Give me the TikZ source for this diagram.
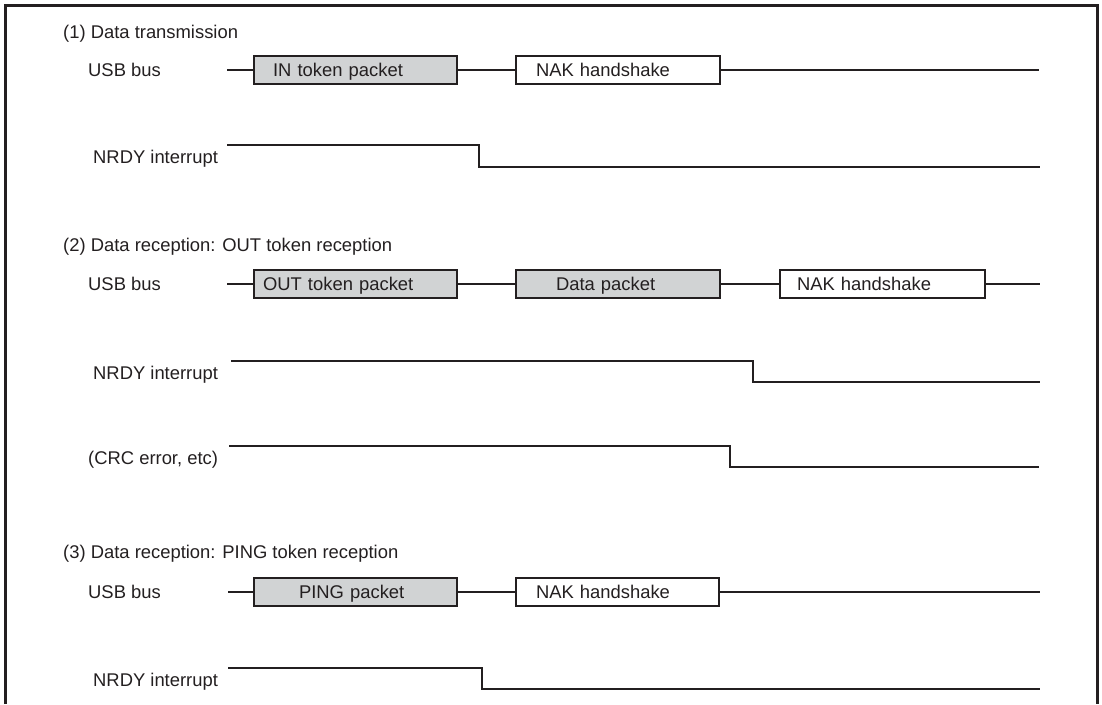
\documentclass[tikz,border=0pt]{standalone}
\usepackage{fontspec}
\setmainfont{Liberation Sans}
\definecolor{ink}{RGB}{35,31,32}
\definecolor{pktgray}{RGB}{209,211,212}
\tikzset{
  lbl/.style={anchor=base west, inner sep=0pt, text=ink, font=\fontsize{18.4pt}{22pt}\selectfont},
  sig/.style={draw=ink, line width=2pt},
  frm/.style={draw=ink, line width=3pt},
  pkt/.style={draw=ink, line width=2.4pt, minimum height=28pt, text height=13.2pt, text depth=0pt,
    inner ysep=0pt, align=left, text=ink, font=\fontsize{18.4pt}{22pt}\selectfont},
  pktfill/.style={pkt, fill=pktgray},
  pktwhite/.style={pkt, fill=white},
}
\begin{document}
\begin{tikzpicture}[x=1pt,y=-1pt]
\useasboundingbox (0,0) rectangle (1102,704);
% frame
\draw[frm] (5,704) -- (5,5) -- (1097,5) -- (1097,704);

% ---------- (1) ----------
\node[lbl] (t1) at (63,38) {(1) Data transmission};
\node[lbl] (u1) at (88,76.5) {USB bus};
\node[lbl] (n1) at (93,163) {NRDY interrupt};
\coordinate (u1s) at (227,70);
\coordinate (u1e) at (1039,70);
\node[pktfill, inner xsep=19pt, text width=165pt] (in1) at (355.5,70) {IN token packet};
\node[pktwhite, inner xsep=20pt, text width=164pt] (nak1) at (618,70) {NAK handshake};
\draw[sig] (u1s) -- (in1.west);
\draw[sig] (in1.east) -- (nak1.west);
\draw[sig] (nak1.east) -- (u1e);
\coordinate (r1s) at (227,145);
\coordinate (r1f) at (479,145);
\coordinate (r1e) at (1040,167);
\draw[sig] (r1s) -- (r1f) |- (r1e);

% ---------- (2) ----------
\node[lbl] (t2) at (63,251) {(2) Data reception: OUT token reception};
\node[lbl] (u2) at (88,290.5) {USB bus};
\node[lbl] (n2) at (93,379) {NRDY interrupt};
\node[lbl] (c2) at (88,464) {(CRC error, etc)};
\coordinate (u2s) at (227,284);
\coordinate (u2e) at (1040,284);
\node[pktfill, inner xsep=9pt, text width=185pt] (out2) at (355.5,284) {OUT token packet};
\node[pktfill, inner xsep=40pt, text width=124pt] (dat2) at (618,284) {Data packet};
\node[pktwhite, inner xsep=17pt, text width=171pt] (nak2) at (882.5,284) {NAK handshake};
\draw[sig] (u2s) -- (out2.west);
\draw[sig] (out2.east) -- (dat2.west);
\draw[sig] (dat2.east) -- (nak2.west);
\draw[sig] (nak2.east) -- (u2e);
\coordinate (r2s) at (231,361);
\coordinate (r2f) at (753,361);
\coordinate (r2e) at (1040,382);
\draw[sig] (r2s) -- (r2f) |- (r2e);
\coordinate (c2s) at (229,446);
\coordinate (c2f) at (730,446);
\coordinate (c2e) at (1039,467);
\draw[sig] (c2s) -- (c2f) |- (c2e);

% ---------- (3) ----------
\node[lbl] (t3) at (63,558) {(3) Data reception: PING token reception};
\node[lbl] (u3) at (88,598.5) {USB bus};
\node[lbl] (n3) at (93,686) {NRDY interrupt};
\coordinate (u3s) at (228,592);
\coordinate (u3e) at (1040,592);
\node[pktfill, inner xsep=45pt, text width=113pt] (ping3) at (355.5,592) {PING packet};
\node[pktwhite, inner xsep=20pt, text width=163pt] (nak3) at (617.5,592) {NAK handshake};
\draw[sig] (u3s) -- (ping3.west);
\draw[sig] (ping3.east) -- (nak3.west);
\draw[sig] (nak3.east) -- (u3e);
\coordinate (r3s) at (228,668);
\coordinate (r3f) at (482,668);
\coordinate (r3e) at (1040,689);
\draw[sig] (r3s) -- (r3f) |- (r3e);
\end{tikzpicture}
\end{document}
